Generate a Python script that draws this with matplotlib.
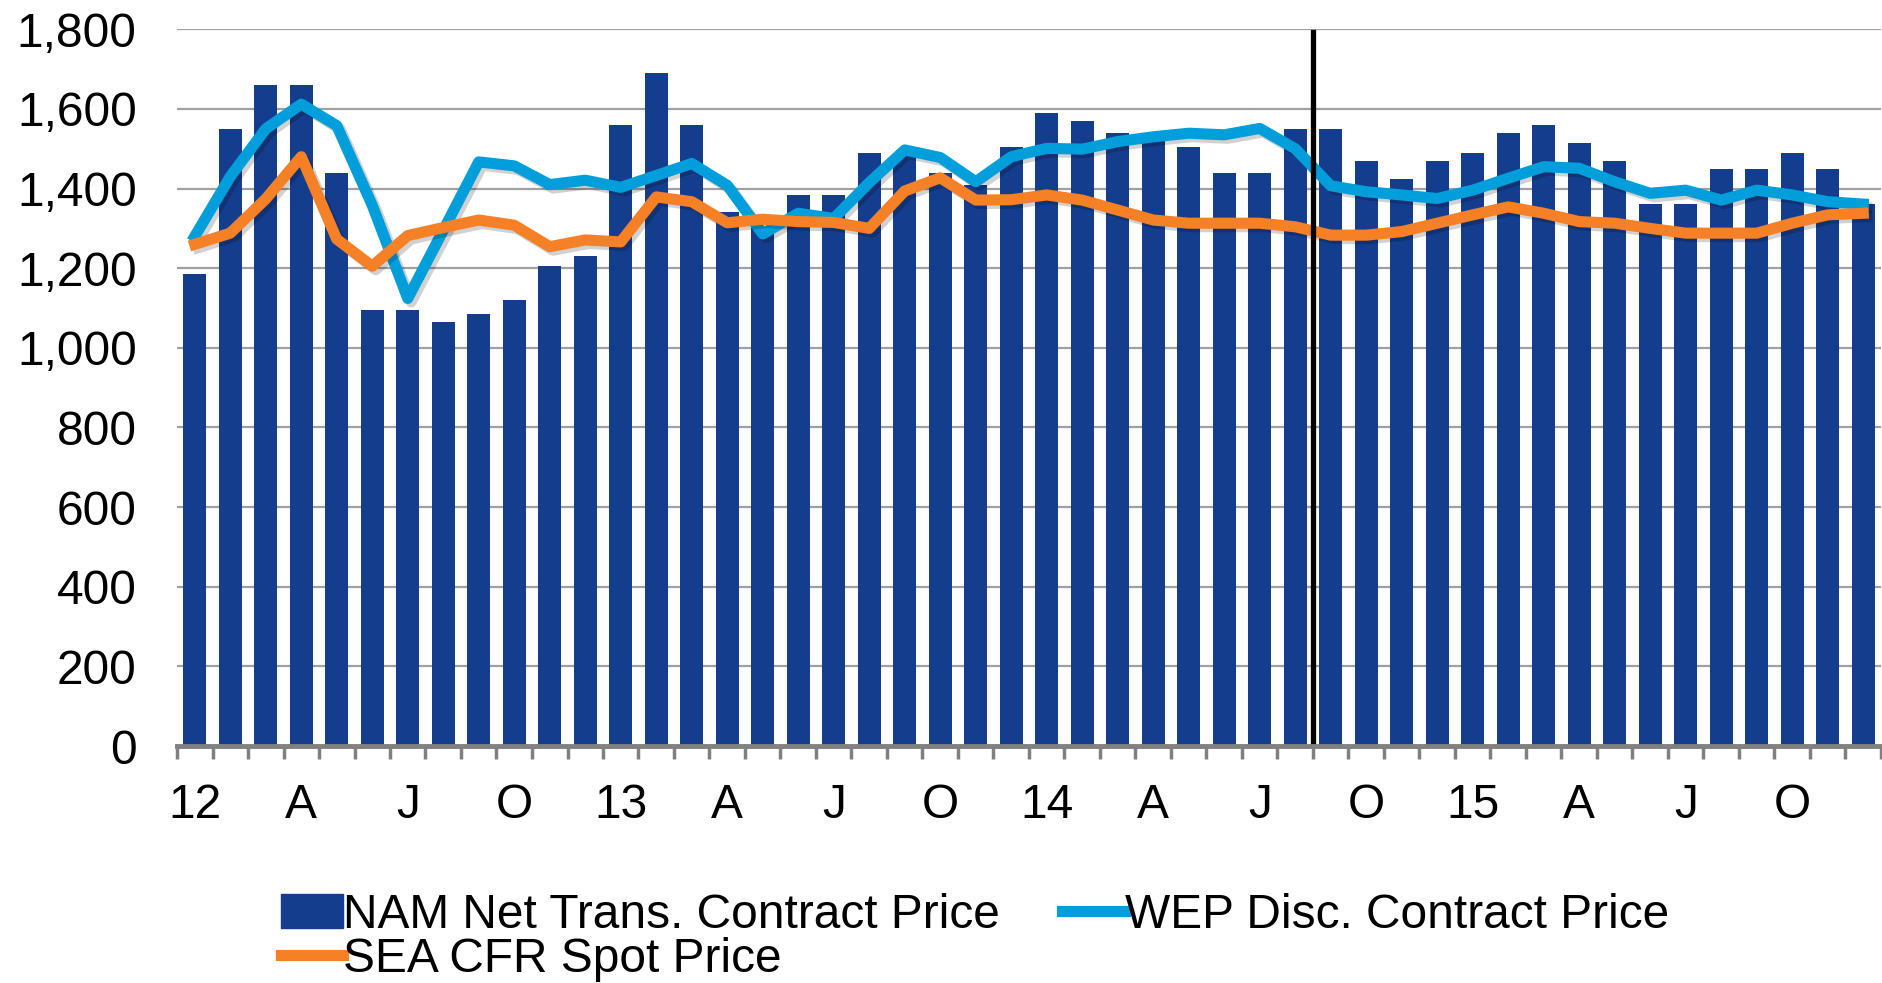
import numpy as np
import matplotlib
matplotlib.use("Agg")
import matplotlib.pyplot as plt
import matplotlib.patheffects as pe
from matplotlib.lines import Line2D
from matplotlib.patches import Patch

# monthly data, Jan 2012 - Dec 2015
nam = [1185, 1550, 1660, 1660, 1440, 1095, 1095, 1065, 1085, 1120, 1205, 1230,
       1560, 1690, 1560, 1340, 1300, 1385, 1385, 1490, 1490, 1440, 1410, 1505,
       1590, 1570, 1540, 1535, 1505, 1440, 1440, 1550, 1550, 1470, 1425, 1470,
       1490, 1540, 1560, 1515, 1470, 1360, 1360, 1450, 1450, 1490, 1450, 1360]
wep = [1280, 1430, 1550, 1612, 1558, 1358, 1124, 1295, 1467, 1457, 1410, 1421,
       1403, 1433, 1463, 1408, 1286, 1338, 1325, 1415, 1497, 1478, 1417, 1480,
       1501, 1499, 1518, 1530, 1539, 1535, 1551, 1500, 1407, 1392, 1384, 1375,
       1396, 1426, 1455, 1451, 1417, 1388, 1396, 1371, 1396, 1384, 1367, 1361]
sea = [1260, 1288, 1374, 1480, 1273, 1205, 1282, 1302, 1321, 1308, 1254, 1271,
       1266, 1379, 1367, 1314, 1323, 1317, 1315, 1300, 1394, 1427, 1371, 1372,
       1384, 1371, 1346, 1321, 1313, 1313, 1313, 1304, 1283, 1283, 1292, 1313,
       1334, 1354, 1338, 1317, 1313, 1300, 1288, 1288, 1288, 1313, 1334, 1338]
tick_labels = ["12", "A", "J", "O", "13", "A", "J", "O",
               "14", "A", "J", "O", "15", "A", "J", "O"]
divider_pos = 31.5  # between Aug and Sep 2014

bar_col = "#143D8D"
wep_col = "#009FDB"
sea_col = "#F58025"
fs = 34.5

plt.rcParams["font.family"] = ["Liberation Sans", "DejaVu Sans"]

fig = plt.figure(figsize=(18.82, 9.83), dpi=100)
ax = fig.add_axes([177/1882, 1 - 746/983, 1704/1882, (746 - 29.3)/983])

x = np.arange(len(nam))
ax.bar(x, nam, width=0.65, color=bar_col, zorder=2)

shadow = [pe.SimpleLineShadow(offset=(2.5, -2.5), shadow_color="k", alpha=0.18), pe.Normal()]
ax.plot(x, sea, color=sea_col, lw=8, path_effects=shadow, zorder=4)
ax.plot(x, wep, color=wep_col, lw=8, path_effects=shadow, zorder=3)

ax.plot([divider_pos, divider_pos], [0, 1792], color="black", lw=3.8, zorder=5)

ax.set_xlim(-0.5, len(nam) - 0.5)
ax.set_ylim(0, 1800)
ax.set_yticks(range(0, 1801, 200))
ax.set_yticklabels([f"{v:,}" for v in range(0, 1801, 200)])
ax.yaxis.grid(True, color="#A0A0A0", lw=1.6, zorder=0)
ax.set_axisbelow(True)

ax.set_xticks(x[::3])
ax.set_xticklabels(tick_labels)
ax.set_xticks(np.arange(-0.5, len(nam), 1), minor=True)
ax.tick_params(axis="x", which="major", length=0, pad=27, labelsize=fs)
ax.tick_params(axis="x", which="minor", length=9.5, width=2.5, color="#808080")
ax.tick_params(axis="y", length=0, pad=29, labelsize=fs)

for s in ["top", "right", "left"]:
    ax.spines[s].set_visible(False)
ax.spines["bottom"].set_color("#808080")
ax.spines["bottom"].set_linewidth(3.5)
ax.spines["bottom"].set_zorder(6)

handles = [Patch(color=bar_col), Line2D([], [], color=sea_col, lw=8),
           Line2D([], [], color=wep_col, lw=8)]
labels = ["NAM Net Trans. Contract Price", "SEA CFR Spot Price", "WEP Disc. Contract Price"]
fig.legend(handles, labels, ncol=2,
           loc="upper left", bbox_to_anchor=(281/1882, 1 - 893/983),
           frameon=False, fontsize=fs, borderpad=0, borderaxespad=0,
           handlelength=1.3, handletextpad=0.0, columnspacing=1.3,
           labelspacing=-0.02)

fig.savefig("out.png", dpi=100)
